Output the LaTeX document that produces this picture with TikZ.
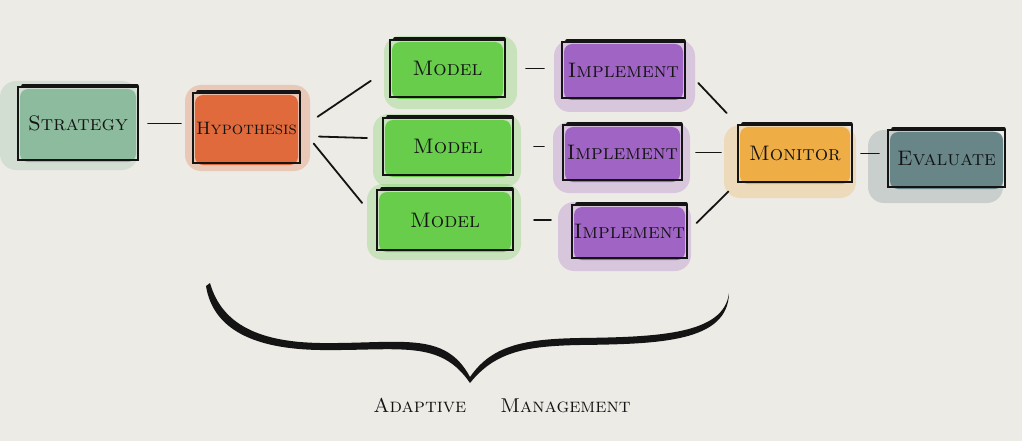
\documentclass[tikz,border=0pt]{standalone}
\usetikzlibrary{calc}
\definecolor{bg}{HTML}{EDEBE6}
\definecolor{cstrat}{HTML}{86B898}
\definecolor{chyp}{HTML}{E0602F}
\definecolor{cmodel}{HTML}{5DCB3F}
\definecolor{cimpl}{HTML}{9A5BC2}
\definecolor{cmon}{HTML}{F0A93A}
\definecolor{ceval}{HTML}{5E7E80}
\definecolor{ink}{HTML}{141414}
\tikzset{
  box/.style={draw=ink, line width=2pt, inner sep=0pt, font=\fontsize{21}{24}\selectfont\scshape, text=ink},
  topedge/.style={draw=ink, line width=3.6pt, line cap=round},
  wash/.style={fill=#1, rounded corners=16pt, fill opacity=0.25, draw=none},
  core/.style={fill=#1, rounded corners=8pt, fill opacity=0.9, draw=none},
  conn/.style={draw=ink, line width=1.8pt, line cap=round},
  label/.style={font=\fontsize{20}{24}\selectfont\scshape, text=ink, inner sep=0pt}
}
% \mybox{name}{cx}{cy}{w}{h}{colour}{text}{wash dx}{wash dy}
\newcommand\mybox[9]{%
  \path[wash=#6] (#2-#4/2-10+#8,#3-#5/2-6+#9) rectangle (#2+#4/2+8+#8,#3+#5/2+10+#9);
  \path[core=#6] (#2-#4/2+2,#3-#5/2+2) rectangle (#2+#4/2-2,#3+#5/2+2);
  \node[box, minimum width=#4pt, minimum height=#5pt] (#1) at (#2,#3) {#7};
  \draw[topedge] ($(#1.north west)+(6,0)$) -- ($(#1.north east)+(-2,0)$);
}
\begin{document}
\begin{tikzpicture}[x=1pt,y=-1pt]
\fill[bg] (0,0) rectangle (1022,441);
\useasboundingbox (0,0) rectangle (1022,441);

\mybox{strat}{78}{123.5}{120}{73}{cstrat}{Strategy}{-8}{0}
\mybox{hyp}{246.5}{128}{107}{70}{chyp}{\fontsize{18}{20}\selectfont Hypothesis}{2}{-2}
\mybox{mA}{447.5}{68.5}{115}{57}{cmodel}{Model}{4}{2}
\mybox{iA}{623.5}{70}{123}{56}{cimpl}{Implement}{2}{4}
\mybox{mB}{448}{146.5}{130}{57}{cmodel}{Model}{0}{2}
\mybox{iB}{622.5}{152.5}{119}{55}{cimpl}{Implement}{0}{3}
\mybox{mC}{445}{220}{136}{60}{cmodel}{Model}{0}{0}
\mybox{iC}{629.5}{231.5}{115}{53}{cimpl}{Implement}{-4}{3}
\mybox{mon}{795}{153.5}{114}{57}{cmon}{Monitor}{-4}{6}
\mybox{ev}{946.5}{158.5}{117}{57}{ceval}{Evaluate}{-10}{6}

\draw[conn, shorten <=9pt, shorten >=11pt] (strat.east) -- (strat.east -| hyp.west);
\draw[conn, shorten <=20pt, shorten >=22pt] (hyp.east) -- (mA.west);
\draw[conn, shorten <=18pt, shorten >=15pt] ($(hyp.east)+(0,8)$) -- ($(mB.west)+(0,-8)$);
\draw[conn, shorten <=20pt, shorten >=22pt] (hyp.east) -- (mC.west);
\draw[conn, shorten <=20pt, shorten >=17pt] (mA.east) -- (mA.east -| iA.west);
\draw[conn, shorten <=20pt, shorten >=18pt] (mB.east) -- (mB.east -| iB.west);
\draw[conn, shorten <=20pt, shorten >=20pt] (mC.east) -- (mC.east -| iC.west);
\draw[conn, shorten <=18pt, shorten >=15pt] (iA.east) -- (mon.north west);
\draw[conn, shorten <=13pt, shorten >=16pt] (iB.east) -- (iB.east -| mon.west);
\draw[conn, shorten <=12pt, shorten >=12pt] (iC.east) -- (mon.south west);
\draw[conn, shorten <=8pt, shorten >=8pt] (mon.east) -- (mon.east -| ev.west);

% brace
\fill[ink] (210,283) .. controls (222,325) and (260,342) .. (320,343)
  .. controls (400,344) and (445,330) .. (470,377)
  .. controls (492,345) and (525,339) .. (580,338)
  .. controls (660,337) and (724,334) .. (729,293)
  .. controls (728,342) and (660,344) .. (580,345)
  .. controls (525,346) and (495,352) .. (470,383)
  .. controls (440,339) and (400,351) .. (320,350)
  .. controls (255,349) and (213,330) .. (206,286) -- cycle;

\node[label] (am) at (502,405) {Adaptive\hspace{34pt}Management};
\end{tikzpicture}
\end{document}
